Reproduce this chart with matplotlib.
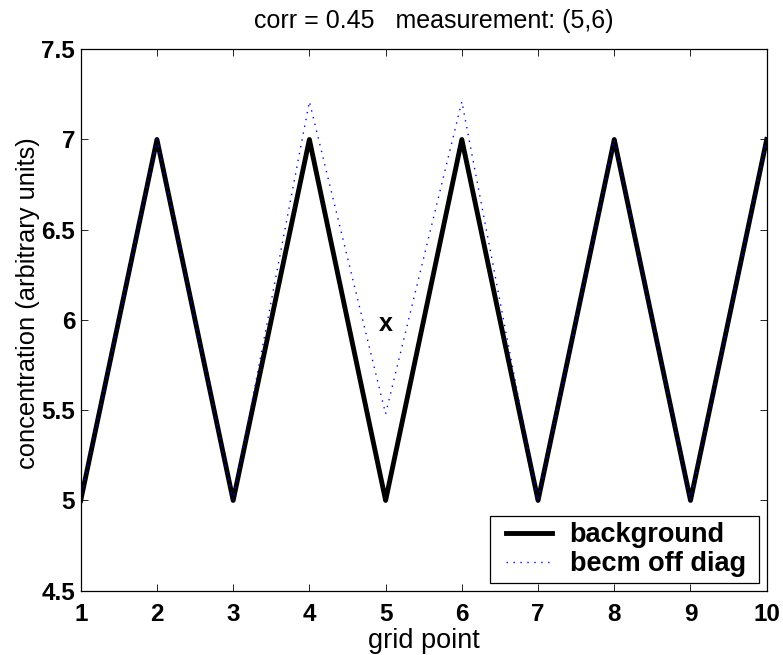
import numpy as np
import matplotlib.pyplot as plt
from matplotlib.legend_handler import HandlerLine2D

plt.rcParams['font.family'] = ['Liberation Sans', 'DejaVu Sans']

grid = np.arange(1, 11)
background = [5, 7, 5, 7, 5, 7, 5, 7, 5, 7]
becm_off_diag = [5, 7, 5, 7.21, 5.48, 7.21, 5, 7, 5, 7]
meas_x, meas_y = 5, 6
corr = 0.45

fig = plt.figure(figsize=(7.83, 6.55), dpi=100)
ax = fig.add_axes([0.1031, 0.0982, 0.8761, 0.8266])

l_bg, = ax.plot(grid, background, color='black', lw=3.5, label='background')
l_becm, = ax.plot(grid, becm_off_diag, color='blue', lw=1.0, ls=(0, (1, 4)),
                  label='becm off diag ')
# measurement marker, drawn as a bold text 'x'
ax.annotate('x', (meas_x, meas_y), xytext=(0, -3), textcoords='offset points',
            ha='center', va='center', fontsize=18, fontweight='bold')

ax.set_xlim(1, 10)
ax.set_ylim(4.5, 7.5)
ax.set_xticks(grid)
ax.set_yticks(np.arange(4.5, 7.51, 0.5))
ax.set_yticklabels(['4.5', '5', '5.5', '6', '6.5', '7', '7.5'])
ax.tick_params(direction='in', top=True, right=True, length=5, width=0.6,
               labelsize=17.5)
ax.tick_params(axis='x', pad=9)
ax.tick_params(axis='y', pad=4)
for lab in ax.get_xticklabels() + ax.get_yticklabels():
    lab.set_fontweight('bold')
for s in ax.spines.values():
    s.set_linewidth(0.9)

ax.set_xlabel('grid point', fontsize=19.5, labelpad=1.5)
ax.set_ylabel('concentration (arbitrary units)', fontsize=18.4, labelpad=1)
ax.yaxis.label.set_y(0.531)
ax.set_title(f'corr = {corr}   measurement: ({meas_x},{meas_y})', fontsize=18,
             pad=15, x=0.515)

hmap = {l_bg: HandlerLine2D(xpad=0.354), l_becm: HandlerLine2D(xpad=0.354)}
leg = ax.legend(loc='lower right', prop={'weight': 'bold', 'size': 19.5},
                handler_map=hmap,
                fancybox=False, framealpha=1, edgecolor='black',
                borderaxespad=0.28, handlelength=2.08, handletextpad=0.63,
                borderpad=0.22, labelspacing=0.1)
leg.get_frame().set_linewidth(0.9)

fig.savefig('out.png', dpi=100)
